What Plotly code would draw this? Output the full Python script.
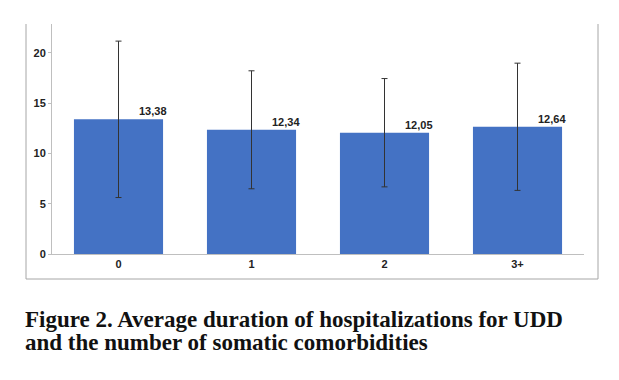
import plotly.graph_objects as go

categories = ["0", "1", "2", "3+"]
means = [13.38, 12.34, 12.05, 12.64]
sd = [7.77, 5.86, 5.38, 6.32]
value_labels = ["13,38", "12,34", "12,05", "12,64"]
y_ticks = [0, 5, 10, 15, 20]
caption_lines = ["Figure 2. Average duration of hospitalizations for UDD",
                 "and the number of somatic comorbidities"]

W, H = 619, 380
L, R, T, B = 52, 35, 24, 126
pw, ph = W - L - R, H - T - B

def px_x(x):
    return (x - L) / pw

def px_y(y):
    return (H - B - y) / ph

fig = go.Figure()
fig.add_trace(go.Bar(
    x=categories, y=means,
    marker=dict(color="#4472C4", line=dict(width=0)),
    error_y=dict(type="data", array=sd, visible=True, color="#333333",
                 thickness=1, width=3),
    hoverinfo="skip",
))

for c, m, lab in zip(categories, means, value_labels):
    fig.add_annotation(x=c, y=m, text="<b>" + lab + "</b>", showarrow=False,
                       xshift=34, yshift=8, xanchor="center", yanchor="middle",
                       font=dict(family="Liberation Sans, Arial", size=11, color="#222222"))

for i, line in enumerate(caption_lines):
    fig.add_annotation(xref="paper", yref="paper", x=px_x(23), y=px_y(319 + i * 23),
                       text="<b>" + line + "</b>", showarrow=False,
                       xanchor="left", yanchor="middle",
                       font=dict(family="Liberation Serif, Times New Roman", size=23, color="#111111"))

box = dict(color="#A6A6A6", width=1)
fig.add_shape(type="line", xref="paper", yref="paper", x0=px_x(26), x1=px_x(26), y0=px_y(279), y1=1, line=box)
fig.add_shape(type="line", xref="paper", yref="paper", x0=px_x(598), x1=px_x(598), y0=px_y(279), y1=1, line=box)
fig.add_shape(type="line", xref="paper", yref="paper", x0=px_x(26), x1=px_x(598), y0=px_y(279), y1=px_y(279), line=box)

fig.update_layout(
    width=W, height=H,
    margin=dict(l=L, r=R, t=T, b=B, pad=0),
    paper_bgcolor="white", plot_bgcolor="white",
    bargap=0.33, showlegend=False,
    font=dict(family="Liberation Sans, Arial", size=11, color="#222222"),
    xaxis=dict(showline=True, linecolor="#BFBFBF", linewidth=1, ticks="",
               tickfont=dict(size=11), tickprefix="<b>", ticksuffix="</b>",
               showgrid=False, zeroline=False, fixedrange=True),
    yaxis=dict(range=[0, 22.85], tickvals=y_ticks,
               ticktext=["<b>%d</b>" % v for v in y_ticks],
               showline=True, linecolor="#BFBFBF",
               linewidth=1, ticks="outside", ticklen=3, tickcolor="#BFBFBF",
               tickfont=dict(size=11),
               showgrid=False, zeroline=False, fixedrange=True),
)

fig.write_html("out.html", config={"displayModeBar": False},
               post_script="document.body.style.margin='0px';document.body.style.overflow='hidden';")
